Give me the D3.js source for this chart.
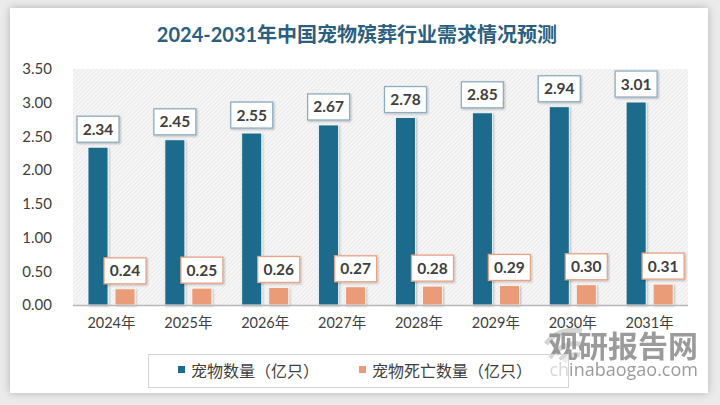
<!DOCTYPE html>
<html><head><meta charset="utf-8">
<script src="https://cdn.jsdelivr.net/npm/d3@7"></script>
<style>
html,body{margin:0;padding:0;background:#e9e9e9;}
svg{display:block;}
</style></head>
<body>
<svg id="chart" width="720" height="405"></svg>
<script>
const years = ["2024年","2025年","2026年","2027年","2028年","2029年","2030年","2031年"];
const seriesNames = ["宠物数量（亿只）","宠物死亡数量（亿只）"];
const petCount = [2.34,2.45,2.55,2.67,2.78,2.85,2.94,3.01];
const petDeaths = [0.24,0.25,0.26,0.27,0.28,0.29,0.30,0.31];
const yTicks = [0,0.5,1,1.5,2,2.5,3,3.5];
const title = "2024-2031年中国宠物殡葬行业需求情况预测";

const colors = ["#1D6A8C","#EA9B78"];
const borderColors = ["#8DAEC2","#E7A385"];
const svg = d3.select("#chart");
const defs = svg.append("defs");

const f = defs.append("filter").attr("id","cardShadow").attr("x","-5%").attr("y","-5%").attr("width","110%").attr("height","110%");
f.append("feGaussianBlur").attr("in","SourceAlpha").attr("stdDeviation",4);
f.append("feOffset").attr("dx",0).attr("dy",0).attr("result","b");
f.append("feComponentTransfer").append("feFuncA").attr("type","linear").attr("slope",0.25);
const fm = f.append("feMerge"); fm.append("feMergeNode"); fm.append("feMergeNode").attr("in","SourceGraphic");

const ls = defs.append("filter").attr("id","lblShadow").attr("x","-20%").attr("y","-20%").attr("width","150%").attr("height","150%");
ls.append("feGaussianBlur").attr("in","SourceAlpha").attr("stdDeviation",1.2);
ls.append("feOffset").attr("dx",1).attr("dy",1).attr("result","o");
ls.append("feComponentTransfer").append("feFuncA").attr("type","linear").attr("slope",0.25);
const lm = ls.append("feMerge"); lm.append("feMergeNode"); lm.append("feMergeNode").attr("in","SourceGraphic");

const pat = defs.append("pattern").attr("id","hatch").attr("patternUnits","userSpaceOnUse")
  .attr("width",3).attr("height",3).attr("patternTransform","rotate(45)");
pat.append("rect").attr("width",3).attr("height",3).attr("fill","#f6f6f6");
pat.append("line").attr("x1",0).attr("y1",0).attr("x2",0).attr("y2",3).attr("stroke","#e2e2e2").attr("stroke-width",1.2);

svg.append("rect").attr("x",0).attr("y",0).attr("width",720).attr("height",405).attr("fill","#ebebeb");
svg.append("rect").attr("x",10).attr("y",8).attr("width",698).attr("height",385).attr("fill","#ffffff").attr("filter","url(#cardShadow)");

svg.append("text").attr("x",357).attr("y",42).attr("text-anchor","middle")
  .attr("font-family","Lato, 'Noto Sans CJK SC', sans-serif").attr("font-weight","bold")
  .attr("font-size",20).attr("fill","#2A5F80").text(title);

const x0 = d3.scaleBand().domain(years).range([73,688]).padding(0);
const x1 = d3.scaleBand().domain(seriesNames).range([15,62]).paddingInner(0.26);
const y = d3.scaleLinear().domain([0,3.5]).range([305,69]);

svg.append("rect").attr("x",73).attr("y",y(3.5)).attr("width",615).attr("height",y(0)-y(3.5)).attr("fill","url(#hatch)");

const yAxis = d3.axisLeft(y).tickValues(yTicks).tickFormat(d3.format(".2f")).tickSize(0).tickPadding(0);
const yg = svg.append("g").attr("transform","translate(52,0)").call(yAxis);
yg.select(".domain").remove();
yg.selectAll("text").attr("font-family","Lato, 'Noto Sans CJK SC', sans-serif").attr("font-size",15).attr("fill","#404040");

const xAxis = d3.axisBottom(x0).tickSize(0).tickPadding(0);
const xg = svg.append("g").attr("transform","translate(0,318)").call(xAxis);
xg.select(".domain").remove();
xg.selectAll("text").attr("font-family","Lato, 'Noto Sans CJK SC', sans-serif").attr("font-size",14.5).attr("fill","#404040");

const data = [petCount, petDeaths];
data.forEach((vals, si) => {
  const g = svg.append("g");
  g.selectAll("rect.bar").data(vals).join("rect").attr("class","bar")
    .attr("x",(d,i)=>x0(years[i])+x1(seriesNames[si]))
    .attr("y",d=>y(d)).attr("width",x1.bandwidth()).attr("height",d=>y(0)-y(d))
    .attr("fill",colors[si]).attr("stroke","#ffffff").attr("stroke-width",0.8).attr("filter","url(#lblShadow)");
});

svg.append("line").attr("x1",73).attr("x2",688).attr("y1",y(0)+0.5).attr("y2",y(0)+0.5).attr("stroke","#b8b8b8").attr("stroke-width",1.5);

data.forEach((vals, si) => {
  const g = svg.append("g");
  vals.forEach((d,i)=>{
    const cx = x0(years[i])+x1(seriesNames[si])+x1.bandwidth()/2;
    const bottom = y(d)-5;
    const w = 42, h = 26;
    g.append("rect").attr("x",cx-w/2).attr("y",bottom-h).attr("width",w).attr("height",h)
      .attr("fill","#fff").attr("stroke",borderColors[si]).attr("stroke-width",1.3).attr("filter","url(#lblShadow)");
    g.append("text").attr("x",cx).attr("y",bottom-h/2+5.5).attr("text-anchor","middle")
      .attr("font-family","Lato, sans-serif").attr("font-weight","bold").attr("font-size",15.5)
      .attr("fill","#404040").text(d3.format(".2f")(d));
  });
});

// watermark
const wm = svg.append("g").attr("fill","none").attr("stroke","#c8c8c8").attr("stroke-width",5).attr("opacity",0.75);
wm.append("path").attr("d","M546,344 Q558,327 582,331");
wm.append("path").attr("d","M554,354 Q565,341 580,344");
wm.append("path").attr("d","M564,362 Q571,353 580,355");
svg.append("text").attr("x",698).attr("y",357).attr("text-anchor","end")
  .attr("font-family","'Noto Sans CJK SC', sans-serif").attr("font-weight","bold").attr("font-size",30)
  .attr("fill","#8a8a8a").attr("opacity",0.85).text("观研报告网");
svg.append("text").attr("x",698).attr("y",376).attr("text-anchor","end")
  .attr("font-family","'Open Sans', sans-serif").attr("font-size",18)
  .attr("fill","#8a8a8a").attr("opacity",0.85).text("chinabaogao.com");

const lg = svg.append("g");
lg.append("rect").attr("x",148.5).attr("y",354.5).attr("width",420).attr("height",33)
  .attr("fill","#ffffff").attr("fill-opacity",0.6).attr("stroke","#d4d4d4");
const legX = [178, 359];
seriesNames.forEach((n,i)=>{
  lg.append("rect").attr("x",legX[i]).attr("y",366).attr("width",7).attr("height",7).attr("fill",colors[i]);
  lg.append("text").attr("x",legX[i]+13).attr("y",376.5).attr("font-family","'Noto Sans CJK SC', sans-serif")
    .attr("font-size",16).attr("fill","#404040").text(n);
});
</script>
</body></html>
